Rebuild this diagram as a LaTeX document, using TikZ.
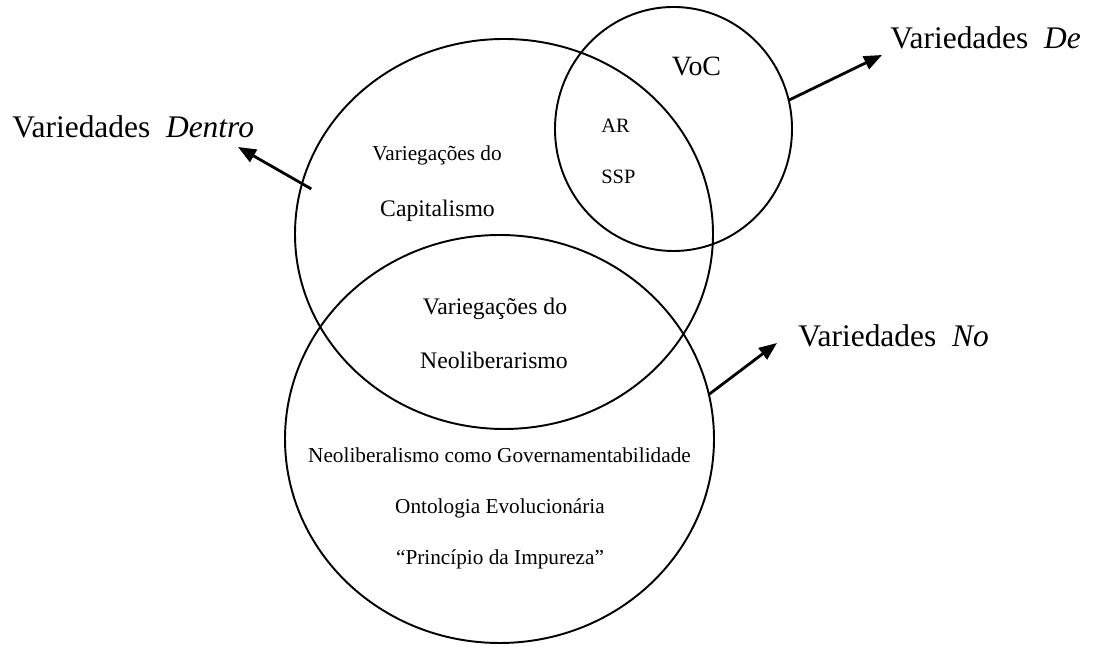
\documentclass[tikz,border=0pt]{standalone}
\usepackage{fontspec}
\setmainfont{Liberation Serif}
\usepackage{tikz}
\usetikzlibrary{arrows.meta}
\usetikzlibrary{shapes.geometric,positioning}

\begin{document}
\begin{tikzpicture}[
	ring/.style={ellipse,draw,black,line width=1.1pt,inner sep=0pt,outer sep=0pt},
	txtsmall/.style={anchor=base,inner sep=0pt,font=\fontsize{12.1}{14}\selectfont},
	txtmid/.style={anchor=base,inner sep=0pt,font=\fontsize{13.5}{16}\selectfont},
	txtbig/.style={anchor=base west,inner sep=0pt,font=\fontsize{17.9}{21}\selectfont},
	pointer/.style={black,line width=1.6pt,-{Triangle[length=0.36cm,width=0.28cm]}}]
	\useasboundingbox (0,0) rectangle (21.88,12.94);
	% the three sets
	\node[ring,minimum width=8.36cm,minimum height=7.8cm] (cap) at (10.08,8.26) {};
	\node[ring,minimum width=4.74cm,minimum height=4.88cm] (voc) at (13.47,10.36) {};
	\node[ring,minimum width=8.58cm,minimum height=8.16cm] (neo) at (9.99,4.16) {};
	% texts inside
	\node[txtsmall] (varcap) at (8.74,9.72) {Variegações do};
	\node[txtmid] (capital) at (8.75,8.60) {Capitalismo};
	\node[txtsmall,anchor=base west,font=\fontsize{11.6}{14}\selectfont] (ar) at (12.02,10.28) {AR};
	\node[txtsmall,anchor=base west,font=\fontsize{11.6}{14}\selectfont] (ssp) at (12.02,9.26) {SSP};
	\node[txtmid,font=\fontsize{15.9}{19}\selectfont] (vocname) at (13.93,11.42) {VoC};
	\node[txtmid] (varneo) at (9.90,6.64) {Variegações do};
	\node[txtmid] (neolib) at (9.88,5.56) {Neoliberarismo};
	\node[txtsmall] (gov) at (9.99,3.68) {Neoliberalismo como Governamentabilidade};
	\node[txtsmall] (onto) at (10.00,2.66) {Ontologia Evolucionária};
	\node[txtsmall] (impur) at (10.00,1.64) {“Princípio da Impureza”};
	% labels outside
	\node[txtbig] (dentro) at (0.24,10.18) {Variedades\ \ \textit{Dentro}};
	\node[txtbig] (de) at (17.80,11.96) {Variedades\ \ \textit{De}};
	\node[txtbig] (no) at (15.96,6.00) {Variedades\ \ \textit{No}};
	\coordinate (dentro-tip) at (4.76,10.00);
	\coordinate (de-tip) at (17.64,11.84);
	\coordinate (no-tip) at (15.54,6.08);
	% arrows
	\draw[pointer,shorten <=-6pt] (cap.166) -- (dentro-tip);
	\draw[pointer] (voc.14) -- (de-tip);
	\draw[pointer] (neo.12) -- (no-tip);
\end{tikzpicture}
\end{document}
